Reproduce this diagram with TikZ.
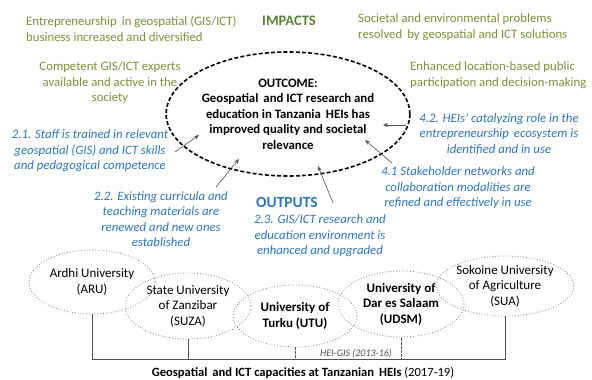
\documentclass[tikz,border=0pt]{standalone}
\usepackage{fontspec}
\setmainfont{Carlito}
\usetikzlibrary{shapes.geometric,arrows.meta}
\definecolor{impactgreen}{RGB}{118,146,60}
\definecolor{headgreen}{RGB}{84,130,53}
\definecolor{outblue}{RGB}{46,117,182}
\definecolor{linegray}{RGB}{80,80,80}
\definecolor{dotgray}{RGB}{125,125,125}
\begin{document}
\begin{tikzpicture}[x=1pt,y=-1pt,
  txt/.style={inner sep=0pt, font=\fontsize{12.8}{15.5}\selectfont},
  impact/.style={txt, text=impactgreen},
  outtxt/.style={inner sep=0pt, text=outblue, align=center,
    font=\fontsize{12.8}{15.5}\selectfont\itshape},
  heading/.style={inner sep=0pt, font=\fontsize{14.5}{16}\selectfont\bfseries},
  outcomebox/.style={ellipse, draw, dashed, line width=1.6pt,
    dash pattern=on 4pt off 2.2pt, minimum width=216pt, minimum height=124pt,
    inner sep=0pt, align=center, font=\fontsize{12.8}{15.5}\selectfont\bfseries},
  uni/.style={ellipse, draw=dotgray, dotted, line width=0.8pt,
    minimum width=126pt, minimum height=64pt, inner sep=0pt, align=center,
    font=\fontsize{13}{15.5}\selectfont},
  feed/.style={draw=linegray, line width=0.6pt, -{Stealth[length=5pt,width=4pt]}},
  bus/.style={draw=linegray, line width=0.8pt},
  busdash/.style={draw=linegray, line width=0.9pt, dash pattern=on 2.5pt off 1.5pt}
]
\useasboundingbox (0,0) rectangle (592,380);

% impacts
\node[heading, text=headgreen] (impacts) at (289,21) {IMPACTS};
\node[impact, anchor=west, align=left] (imp1) at (26,29)
  {Entrepreneurship\, in geospatial (GIS/ICT)\\business increased and diversified};
\node[impact, anchor=west, align=left] (imp2) at (358,27)
  {Societal and environmental problems\\resolved\, by geospatial and ICT solutions};
\node[impact, align=center] (imp3) at (110,83)
  {Competent GIS/ICT experts\\available and active in the\\society};
\node[impact, anchor=west, align=left] (imp4) at (410,75)
  {Enhanced location-based public\\participation and decision-making};

% outcome
\node[outcomebox] (outcome) at (288,114)
  {OUTCOME:\\Geospatial\, and ICT research and\\education in Tanzania\, HEIs has\\improved quality and societal\\relevance};

% outputs
\node[heading, text=outblue, font=\fontsize{15.5}{17}\selectfont\bfseries] (outputs) at (287,202) {OUTPUTS};
\node[outtxt] (o21) at (90,151)
  {2.1. Staff is trained in relevant\\geospatial (GIS) and ICT skills\\and pedagogical competence};
\node[outtxt] (o22) at (161,219)
  {2.2. Existing curricula and\\teaching materials are\\renewed and new ones\\established};
\node[outtxt] (o23) at (320,236)
  {2.3. GIS/ICT research and\\education environment is\\enhanced and upgraded};
\node[outtxt] (o42) at (499,134)
  {4.2. HEIs’ catalyzing role in the\\entrepreneurship\, ecosystem is\\identified and in use};
\node[outtxt] (o41) at (458,188)
  {4.1 Stakeholder networks and\\collaboration modalities are\\refined and effectively in use};

% arrow ends
\coordinate (s21) at (175,152); \coordinate (e21) at (199,135);
\coordinate (s22) at (216,187); \coordinate (e22) at (239,159);
\coordinate (s23) at (333,203); \coordinate (e23) at (318,166);
\coordinate (s42) at (406,125); \coordinate (e42) at (383,125);
\coordinate (s41) at (392,163); \coordinate (e41) at (365,140);
\draw[feed] (s21) -- (e21);
\draw[feed] (s22) -- (e22);
\draw[feed] (s23) -- (e23);
\draw[feed] (s42) -- (e42);
\draw[feed] (s41) -- (e41);

% universities
\node[uni] (aru) at (92,282) {Ardhi University\\(ARU)};
\node[uni, minimum height=66pt] (suza) at (188,306) {State University\\of Zanzibar\\(SUZA)};
\node[uni, minimum width=124pt, minimum height=62pt, font=\fontsize{13}{15.5}\selectfont\bfseries] (utu) at (295,316) {University of\\Turku (UTU)};
\node[uni, minimum height=66pt, font=\fontsize{13}{15.5}\selectfont\bfseries] (udsm) at (401,304) {University of\\Dar es Salaam\\(UDSM)};
\node[uni, minimum height=60pt] (sua) at (505,286) {Sokoine University\\of Agriculture\\(SUA)};

% linking lines
\coordinate (busR) at (505,359);
\draw[bus] (aru.south) |- (busR) -- (sua.south);
\draw[bus] (suza.south) -- (suza.south |- busR);
\draw[busdash] (utu.south) -- (utu.south |- busR) -| (udsm.south);
\node[inner sep=0pt, text=linegray, font=\fontsize{10}{11}\selectfont\itshape] (heigis) at (356,354) {HEI-GIS (2013-16)};

% caption
\node[inner sep=0pt, font=\fontsize{12.6}{14}\selectfont] (caption) at (303,373)
  {\bfseries Geospatial\, and ICT capacities at Tanzanian\, HEIs\mdseries\ (2017-19)};
\end{tikzpicture}
\end{document}
